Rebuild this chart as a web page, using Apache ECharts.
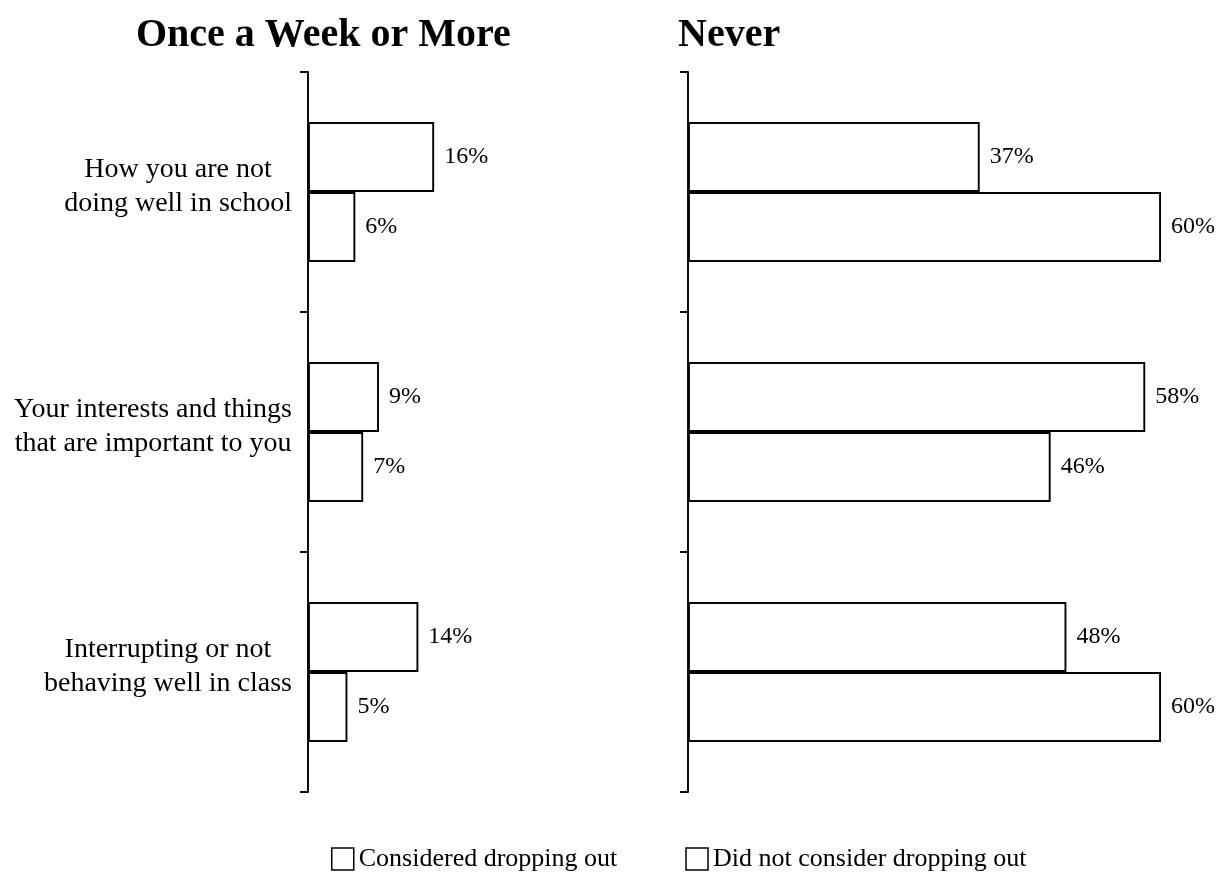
<!DOCTYPE html>
<html>
<head>
<meta charset="utf-8">
<script src="https://cdn.jsdelivr.net/npm/echarts@6/dist/echarts.min.js"></script>
<style>
  html, body { margin: 0; padding: 0; background: #fff; }
  #chart { width: 1231px; height: 881px; }
</style>
</head>
<body>
<div id="chart"></div>
<script>
// Topics discussed, top to bottom
const categories = [
  'How you are not\ndoing well in school',
  'Your interests and things\nthat are important to you',
  'Interrupting or not\nbehaving well in class'
];
const panelTitles = ['Once a Week or More', 'Never'];
const seriesNames = ['Considered dropping out', 'Did not consider dropping out'];

// Percent of students, "Once a Week or More" panel
const weeklyConsidered = [16, 9, 14];
const weeklyNotConsidered = [6, 7, 5];
// Percent of students, "Never" panel
const neverConsidered = [37, 58, 48];
const neverNotConsidered = [60, 46, 60];

const FONT = '"Liberation Serif", "Times New Roman", serif';
const INK = '#000';
const LINE_W = 1.9;

const chart = echarts.init(document.getElementById('chart'));

function barSeries(name, data, gridIdx) {
  return {
    name: name,
    type: 'bar',
    xAxisIndex: gridIdx,
    yAxisIndex: gridIdx,
    data: data,
    barWidth: 70,
    barGap: '0%',
    itemStyle: { color: '#fff', borderColor: INK, borderWidth: LINE_W },
    label: {
      show: true,
      position: 'right',
      distance: 10,
      formatter: '{c}%',
      color: INK,
      fontFamily: FONT,
      fontSize: 24,
      padding: [0, 0, 6, 0]
    },
    emphasis: { disabled: true },
    animation: false
  };
}

function catAxis(gridIdx, showLabels) {
  return {
    type: 'category',
    gridIndex: gridIdx,
    data: categories,
    inverse: true,
    axisLine: { show: true, lineStyle: { color: INK, width: LINE_W } },
    axisTick: { show: true, length: 8, inside: false, lineStyle: { color: INK, width: LINE_W } },
    axisLabel: {
      show: showLabels,
      margin: 16,
      padding: [0, 0, 10, 0],
      formatter: function (v) {
        return v.split('\n').map(function (l) { return '{c|' + l + '}'; }).join('\n');
      },
      rich: {
        c: { align: 'center', fontFamily: FONT, fontSize: 28, lineHeight: 34, color: INK }
      }
    },
    splitLine: { show: false }
  };
}

function valAxis(gridIdx) {
  return {
    type: 'value',
    gridIndex: gridIdx,
    min: 0,
    max: 60,
    show: false
  };
}

chart.setOption({
  backgroundColor: '#fff',
  animation: false,
  title: [
    {
      text: panelTitles[0],
      left: 131,
      top: 11,
      textStyle: { fontFamily: FONT, fontWeight: 'bold', fontSize: 40, color: INK }
    },
    {
      text: panelTitles[1],
      left: 673,
      top: 11,
      textStyle: { fontFamily: FONT, fontWeight: 'bold', fontSize: 40, color: INK }
    }
  ],
  legend: {
    data: seriesNames,
    left: 331,
    top: 846,
    padding: 0,
    icon: 'rect',
    itemWidth: 22,
    itemHeight: 22,
    itemGap: 68,
    selectedMode: false,
    itemStyle: { color: '#fff', borderColor: INK, borderWidth: 1.5 },
    textStyle: { fontFamily: FONT, fontSize: 26, color: INK }
  },
  grid: [
    { left: 308, top: 72, width: 473, height: 720 },
    { left: 688, top: 72, width: 473, height: 720 }
  ],
  xAxis: [valAxis(0), valAxis(1)],
  yAxis: [catAxis(0, true), catAxis(1, false)],
  series: [
    barSeries(seriesNames[0], weeklyConsidered, 0),
    barSeries(seriesNames[1], weeklyNotConsidered, 0),
    barSeries(seriesNames[0], neverConsidered, 1),
    barSeries(seriesNames[1], neverNotConsidered, 1)
  ]
});
</script>
</body>
</html>
